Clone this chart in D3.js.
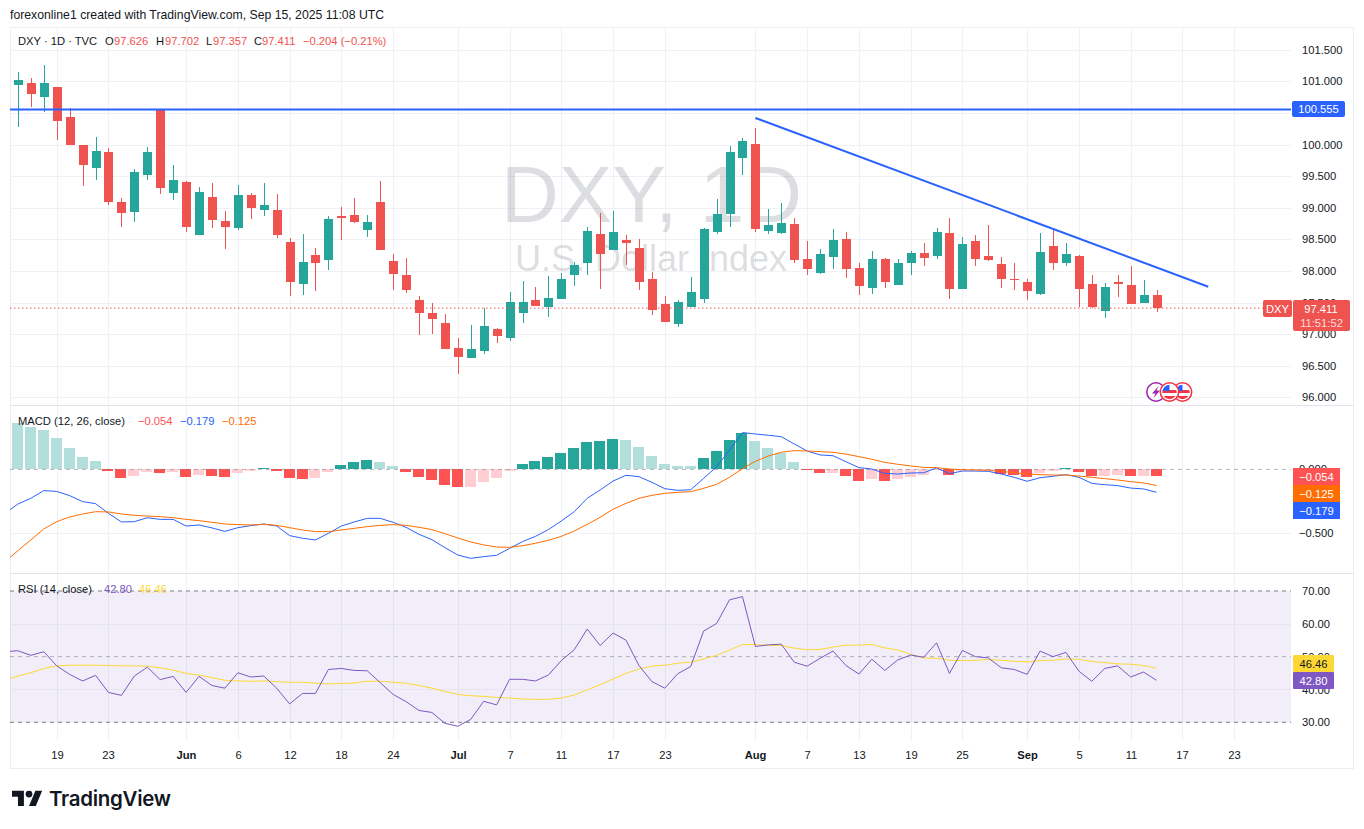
<!DOCTYPE html>
<html>
<head>
<meta charset="utf-8">
<script src="https://cdn.jsdelivr.net/npm/d3@7/dist/d3.min.js"></script>
<style>
html,body{margin:0;padding:0;background:#fff;overflow:hidden}
svg{display:block}
text{font-family:"Liberation Sans",Arial,sans-serif}
</style>
</head>
<body>
<svg id="c" width="1364" height="829"></svg>
<script>
// ---------- DATA ----------
const opens=[100.94,100.97,100.75,100.91,100.43,99.99,99.63,99.88,99.09,98.93,99.52,100.56,99.23,99.41,98.57,99.17,98.79,98.68,99.20,98.96,98.96,98.46,97.79,98.25,98.17,98.87,98.89,98.65,99.09,98.16,97.94,97.54,97.33,97.18,96.78,96.62,96.73,97.08,96.94,97.33,97.54,97.43,97.56,97.94,98.13,98.58,98.33,98.49,98.36,97.87,97.48,97.16,97.43,97.56,98.62,98.90,99.79,100.01,98.63,98.60,98.74,98.19,97.97,98.22,98.50,98.05,97.73,98.19,97.78,98.12,98.28,98.24,98.60,97.71,98.47,98.24,98.11,97.87,97.82,97.63,98.39,98.12,98.24,97.79,97.37,97.82,97.78,97.49,97.626];
const highs=[101.15,101.05,101.26,100.91,100.58,99.99,100.12,99.94,99.15,99.61,99.96,100.56,99.68,99.42,99.33,99.39,98.95,99.36,99.23,99.39,99.22,98.52,98.58,98.36,98.87,99.01,99.15,98.89,99.42,98.27,98.20,97.60,97.49,97.32,96.94,97.14,97.41,97.10,97.67,97.84,97.75,97.92,97.97,98.14,98.70,98.92,98.95,98.57,98.50,97.98,97.60,97.54,97.90,98.68,99.14,99.98,100.10,100.26,98.98,99.07,98.84,98.47,98.35,98.66,98.62,98.13,98.32,98.20,98.19,98.32,98.44,98.68,98.84,98.54,98.57,98.73,98.22,98.12,97.87,98.60,98.65,98.44,98.25,97.94,97.81,97.94,98.08,97.86,97.702];
const lows=[100.28,100.59,100.51,100.07,99.99,99.34,99.44,99.04,98.70,98.77,99.44,99.22,99.12,98.62,98.57,98.68,98.35,98.65,98.82,98.87,98.52,97.60,97.62,97.68,98.01,98.49,98.76,98.54,98.33,97.70,97.65,96.99,97.00,96.76,96.37,96.62,96.69,96.86,96.89,97.18,97.45,97.27,97.56,97.76,97.94,97.71,98.33,98.09,97.70,97.30,97.19,97.11,97.43,97.49,98.58,98.70,99.52,98.62,98.58,98.58,98.13,97.94,97.95,98.03,97.89,97.62,97.63,97.73,97.78,97.94,98.08,98.19,97.56,97.71,98.08,98.16,97.73,97.70,97.54,97.62,98.01,98.08,97.43,97.41,97.26,97.59,97.48,97.49,97.357];
const closes=[101.02,100.80,100.97,100.37,99.99,99.68,99.90,99.09,98.92,99.57,99.88,99.31,99.44,98.70,99.25,98.81,98.70,99.20,98.995,99.04,98.57,97.82,98.14,98.12,98.82,98.84,98.77,98.77,98.33,97.95,97.70,97.33,97.24,96.76,96.64,96.76,97.13,96.97,97.51,97.51,97.45,97.57,97.87,98.09,98.63,98.27,98.62,98.44,97.82,97.38,97.19,97.51,97.67,98.66,98.90,99.88,100.06,98.66,98.73,98.76,98.17,98.03,98.27,98.49,98.03,97.76,98.19,97.82,98.12,98.28,98.20,98.62,97.71,98.43,98.19,98.17,97.87,97.86,97.68,98.30,98.12,98.27,97.71,97.43,97.75,97.79,97.48,97.62,97.411];
const priceTicks=[96,96.5,97,97.5,98,98.5,99,99.5,100,100.5,101,101.5];
const resistance=100.555;
const lastClose=97.411;
const trendIdx=[57,92];
const trendPrice=[100.42,97.75];

const histValues=[.365,.331,.308,.245,.167,.097,.065,-.013,-.068,-.052,-.021,-.029,-.021,-.060,-.044,-.052,-.060,-.029,-.013,.010,-.013,-.068,-.076,-.068,-.021,.034,.057,.073,.057,.026,-.021,-.060,-.084,-.123,-.138,-.138,-.099,-.068,-.013,.042,.065,.097,.128,.167,.214,.222,.237,.230,.175,.104,.042,.026,.026,.089,.144,.230,.284,.222,.167,.128,.057,-.008,-.029,-.029,-.052,-.091,-.076,-.091,-.076,-.060,-.044,-.005,-.044,-.010,-.005,-.005,-.037,-.044,-.060,-.029,-.013,.010,-.021,-.052,-.052,-.044,-.052,-.052,-.054];
// line series start one bar before the first candle (it runs off the left edge)
const macdLine=[-.344,-.271,-.226,-.166,-.172,-.205,-.252,-.268,-.344,-.411,-.409,-.378,-.391,-.391,-.443,-.435,-.458,-.485,-.456,-.440,-.427,-.443,-.518,-.539,-.552,-.500,-.443,-.411,-.383,-.383,-.414,-.453,-.508,-.550,-.612,-.670,-.696,-.683,-.672,-.618,-.565,-.524,-.471,-.404,-.331,-.226,-.161,-.091,-.046,-.057,-.101,-.151,-.164,-.159,-.070,.021,.152,.288,.277,.267,.256,.199,.144,.113,.107,.060,.014,.003,-.031,-.036,-.028,-.026,.011,-.033,-.013,-.013,-.015,-.036,-.062,-.093,-.065,-.054,-.041,-.062,-.109,-.120,-.127,-.146,-.153,-.179];
const signalLine=[-.722,-.636,-.552,-.466,-.409,-.372,-.349,-.331,-.333,-.349,-.359,-.365,-.370,-.378,-.391,-.401,-.414,-.427,-.432,-.435,-.430,-.438,-.456,-.474,-.487,-.487,-.474,-.461,-.448,-.438,-.432,-.438,-.453,-.471,-.503,-.537,-.568,-.591,-.607,-.610,-.597,-.578,-.555,-.524,-.482,-.430,-.375,-.312,-.266,-.226,-.203,-.187,-.180,-.174,-.148,-.117,-.062,.006,.063,.105,.134,.147,.144,.139,.134,.120,.100,.079,.055,.040,.027,.016,.014,.003,-.002,-.005,-.007,-.015,-.026,-.036,-.041,-.044,-.044,-.052,-.062,-.072,-.083,-.096,-.106,-.125];
const macdTicks=[0,-0.5];

const rsiLine=[51.5,51.8,50.4,51.5,47.2,44.6,42.6,44.3,39.1,38.2,44.1,46.8,43.0,44.0,39.1,44.0,41.2,40.4,45.1,43.8,44.1,40.4,35.6,38.8,38.8,46.1,46.4,45.8,45.7,42.1,38.5,36.3,33.6,33.0,29.7,28.8,30.9,36.4,35.3,43.1,43.1,42.6,44.4,48.8,52.1,58.4,53.4,57.2,55.0,47.3,42.4,40.4,44.8,47.0,57.8,60.1,67.3,68.3,53.1,53.6,53.8,48.3,47.1,49.5,51.7,47.3,44.7,49.2,45.8,49.0,50.5,49.8,54.2,44.9,51.9,50.0,49.6,46.6,46.1,44.6,51.7,50.0,51.3,45.6,42.5,46.4,47.2,43.8,45.3,42.80];
const rsiMa=[42.9,44.1,45.1,46.4,47.2,47.4,47.4,47.4,47.3,47.2,47.2,47.1,46.6,45.9,44.9,44.4,43.6,42.8,42.6,42.5,42.6,42.4,42.2,42.2,41.9,41.7,41.8,42.0,42.5,42.5,42.2,41.9,41.2,40.4,39.4,38.5,38.1,37.9,37.6,37.4,37.1,37.0,37.0,37.4,38.3,39.9,41.5,43.2,44.9,46.2,47.1,47.4,48.0,48.3,49.3,50.4,52.0,53.7,53.7,53.4,53.4,52.6,52.1,52.2,52.9,53.5,53.5,53.7,52.7,52.0,50.7,49.6,49.5,48.9,48.8,48.9,49.1,48.9,48.6,48.4,48.8,48.9,49.3,49.2,48.5,48.2,47.8,47.7,47.3,46.46];
const rsiTicks=[70,60,50,40,30];

const timeIdx=[3,7,13,17,21,25,29,34,38,42,46,50,57,61,65,69,73,78,82,86,90,94];
const timeLabels=["19","23","Jun","6","12","18","24","Jul","7","11","17","23","Aug","7","13","19","25","Sep","5","11","17","23"];
const monthLabels=["Jun","Jul","Aug","Sep"];

// ---------- COLOURS ----------
const UP="#26a69a",DOWN="#ef5350",BLUE="#2962ff",ORANGE="#ff6d00",PURPLE="#7e57c2",YELLOW="#fdd835";
const GRID="#f0f1f4",BORDER="#e0e3eb",TEXT="#131722";

// ---------- SCALES ----------
const plotL=10,plotR=1291;
const x=d3.scaleLinear().domain([0,88]).range([17.9,1156.5]);
const y=d3.scaleLinear().domain([96,101]).range([397.3,81.3]);
const yM=d3.scaleLinear().domain([-0.5,0]).range([533.3,469.4]);
const yR=d3.scaleLinear().domain([30,70]).range([722.3,591]);
const px=v=>Math.round(x(v));

const svg=d3.select("#c");
const defs=svg.append("defs");
[["cMain",27,405],["cMacd",405,573],["cRsi",573,741]].forEach(([id,t,b])=>{
  defs.append("clipPath").attr("id",id).append("rect").attr("x",plotL).attr("y",t).attr("width",plotR-plotL).attr("height",b-t);
});

// frame
svg.append("rect").attr("x",10.5).attr("y",27.5).attr("width",1343).attr("height",741).attr("fill","#fff").attr("stroke","#eceef2");

// vertical grid
const gridV=svg.append("g").attr("shape-rendering","crispEdges");
[[27,405],[405,573],[573,741]].forEach(([t,b])=>{
  gridV.selectAll(null).data(timeIdx).join("line")
    .attr("x1",d=>px(d)+.5).attr("x2",d=>px(d)+.5).attr("y1",t).attr("y2",b).attr("stroke",GRID);
});
// horizontal grid
const gridH=svg.append("g").attr("shape-rendering","crispEdges");
gridH.selectAll(null).data(priceTicks).join("line").attr("x1",plotL).attr("x2",plotR)
  .attr("y1",d=>Math.round(y(d))+.5).attr("y2",d=>Math.round(y(d))+.5).attr("stroke",GRID);
gridH.selectAll(null).data(macdTicks.slice(1)).join("line").attr("x1",plotL).attr("x2",plotR)
  .attr("y1",d=>Math.round(yM(d))+.5).attr("y2",d=>Math.round(yM(d))+.5).attr("stroke",GRID);

// watermark
svg.append("text").attr("x",501).attr("y",222).attr("font-size",80).attr("fill","#787b86").attr("fill-opacity",.25).text("DXY, 1D");
svg.append("text").attr("x",515).attr("y",271).attr("font-size",36).attr("fill","#787b86").attr("fill-opacity",.25).text("U.S. Dollar Index");

// pane separators
[405,573].forEach(v=>svg.append("line").attr("x1",10).attr("x2",1354).attr("y1",v+.5).attr("y2",v+.5).attr("stroke",BORDER).attr("shape-rendering","crispEdges"));

// ---------- CANDLES ----------
const candles=d3.range(opens.length).map(i=>({i,o:opens[i],h:highs[i],l:lows[i],c:closes[i]}));
const cg=svg.append("g").attr("clip-path","url(#cMain)").attr("shape-rendering","crispEdges");
// last price dotted line
svg.append("line").attr("x1",plotL).attr("x2",1263).attr("y1",y(lastClose)).attr("y2",y(lastClose))
  .attr("stroke",DOWN).attr("stroke-width",1).attr("stroke-dasharray","1.5,2.5");
cg.selectAll("rect.w").data(candles).join("rect").attr("class","w")
  .attr("x",d=>px(d.i)).attr("width",1).attr("y",d=>y(d.h)).attr("height",d=>y(d.l)-y(d.h))
  .attr("fill",d=>d.c>=d.o?UP:DOWN);
cg.selectAll("rect.b").data(candles).join("rect").attr("class","b")
  .attr("x",d=>px(d.i)-4).attr("width",9).attr("y",d=>y(Math.max(d.o,d.c)))
  .attr("height",d=>Math.max(1,Math.abs(y(d.o)-y(d.c))))
  .attr("fill",d=>d.c>=d.o?UP:DOWN);

// resistance + trend line
svg.append("line").attr("x1",plotL).attr("x2",plotR).attr("y1",y(resistance)).attr("y2",y(resistance)).attr("stroke",BLUE).attr("stroke-width",2);
svg.append("line").attr("x1",x(trendIdx[0])).attr("x2",x(trendIdx[1])).attr("y1",y(trendPrice[0])).attr("y2",y(trendPrice[1])).attr("stroke",BLUE).attr("stroke-width",2);

// ---------- EVENT ICONS ----------
function flag(cx,cy){
  const g=svg.append("g").attr("transform",`translate(${cx},${cy})`);
  g.append("circle").attr("r",9.2).attr("fill","#fff").attr("stroke","#f23645").attr("stroke-width",1.6);
  const id="f"+Math.round(cx);
  defs.append("clipPath").attr("id",id).append("circle").attr("r",7.2);
  const f=g.append("g").attr("clip-path",`url(#${id})`);
  f.append("rect").attr("x",-8).attr("y",-8).attr("width",16).attr("height",16).attr("fill","#fff");
  f.append("rect").attr("x",-8).attr("y",-2).attr("width",16).attr("height",3).attr("fill","#f23645");
  f.append("rect").attr("x",-8).attr("y",4).attr("width",16).attr("height",4).attr("fill","#f23645");
  f.append("rect").attr("x",-8).attr("y",-8).attr("width",8).attr("height",7).attr("fill","#2962ff");
}
{
  const g=svg.append("g").attr("transform","translate(1156,392)");
  g.append("circle").attr("r",9.2).attr("fill","#fff").attr("stroke","#9c27b0").attr("stroke-width",1.6);
  g.append("path").attr("d","M2.5,-6 L-4,1.5 L-0.5,1.5 L-2.5,6 L4,-1.5 L0.5,-1.5 Z").attr("fill","#9c27b0");
  flag(1182.5,392);
  flag(1169.5,392);
}

// ---------- MACD ----------
const mg=svg.append("g").attr("clip-path","url(#cMacd)");
const histColor=(v,i)=>{
  const p=i?histValues[i-1]:Infinity;
  return v>=0?(v>p?UP:"#b2dfdb"):(v<p?"#ff5252":"#ffcdd2");
};
mg.append("g").attr("shape-rendering","crispEdges").selectAll("rect").data(histValues).join("rect")
  .attr("x",(d,i)=>px(i)-6).attr("width",11)
  .attr("y",d=>Math.min(yM(d),yM(0))).attr("height",d=>Math.abs(yM(d)-yM(0)))
  .attr("fill",histColor);
mg.append("line").attr("x1",plotL).attr("x2",plotR).attr("y1",yM(0)).attr("y2",yM(0))
  .attr("stroke","#787b86").attr("stroke-opacity",.55).attr("stroke-dasharray","4,4");
const lineM=d3.line().x((d,i)=>x(i-1)).y(d=>yM(d));
mg.append("path").attr("d",lineM(macdLine)).attr("fill","none").attr("stroke",BLUE).attr("stroke-width",1);
mg.append("path").attr("d",lineM(signalLine)).attr("fill","none").attr("stroke",ORANGE).attr("stroke-width",1);

// ---------- RSI ----------
const rg=svg.append("g").attr("clip-path","url(#cRsi)");
rg.append("rect").attr("x",plotL).attr("width",plotR-plotL).attr("y",yR(70)).attr("height",yR(30)-yR(70))
  .attr("fill",PURPLE).attr("fill-opacity",.1);
rg.append("g").attr("shape-rendering","crispEdges").selectAll("line").data([60,40]).join("line")
  .attr("x1",plotL).attr("x2",plotR).attr("y1",d=>Math.round(yR(d))+.5).attr("y2",d=>Math.round(yR(d))+.5).attr("stroke","#e6e4ef");
rg.append("g").selectAll("line").data([70,50,30]).join("line")
  .attr("x1",plotL).attr("x2",plotR).attr("y1",d=>yR(d)).attr("y2",d=>yR(d))
  .attr("stroke","#787b86").attr("stroke-opacity",d=>d===50?.55:1).attr("stroke-dasharray","4,4");
const lineR=d3.line().x((d,i)=>x(i-1)).y(d=>yR(d));
rg.append("path").attr("d",lineR(rsiMa)).attr("fill","none").attr("stroke",YELLOW).attr("stroke-width",1);
rg.append("path").attr("d",lineR(rsiLine)).attr("fill","none").attr("stroke",PURPLE).attr("stroke-width",1);

// ---------- AXES ----------
const minus=s=>s.replace("-","\u2212");
function styleAxis(g){
  g.select(".domain").remove();
  g.selectAll(".tick line").remove();
  g.selectAll("text").attr("fill",TEXT).attr("font-size",11.2).attr("font-family",'"Liberation Sans",Arial,sans-serif');
}
svg.append("g").attr("transform","translate(1292,0)").call(d3.axisRight(y).tickValues(priceTicks).tickFormat(d3.format(".3f")).tickSize(0).tickPadding(10)).call(styleAxis);
svg.append("g").attr("transform","translate(1292,0)").call(d3.axisRight(yM).tickValues(macdTicks).tickFormat(d=>minus(d3.format(".3f")(d))).tickSize(0).tickPadding(7)).call(styleAxis);
svg.append("g").attr("transform","translate(1292,0)").call(d3.axisRight(yR).tickValues(rsiTicks).tickFormat(d3.format(".2f")).tickSize(0).tickPadding(10)).call(styleAxis);
const xAxis=svg.append("g").attr("transform","translate(0,751)")
  .call(d3.axisBottom(x).tickValues(timeIdx).tickFormat((d,i)=>timeLabels[i]).tickSize(0).tickPadding(0)).call(styleAxis);
xAxis.selectAll(".tick").attr("transform",d=>`translate(${px(d)+.5},0)`);
xAxis.selectAll("text").attr("dy","0.71em").attr("font-weight",(d,i)=>monthLabels.includes(timeLabels[i])?600:400);

// ---------- VALUE LABELS ----------
function box(xp,yp,w,h,fill,txt,tc,r){
  svg.append("rect").attr("x",xp).attr("y",yp).attr("width",w).attr("height",h).attr("fill",fill).attr("rx",r||0);
  if(txt) svg.append("text").attr("x",xp+w/2).attr("y",yp+h/2+4).attr("text-anchor","middle").attr("font-size",11.2).attr("fill",tc).text(txt);
}
box(1292,101,53,16,BLUE,d3.format(".3f")(resistance),"#fff",2);
box(1263,300,29,17,DOWN,"DXY","#fff",2);
box(1293,300,57,31,DOWN,null,null,2);
svg.append("text").attr("x",1321).attr("y",312.5).attr("text-anchor","middle").attr("font-size",11.2).attr("fill","#fff").text(d3.format(".3f")(lastClose));
svg.append("text").attr("x",1321.5).attr("y",326.5).attr("text-anchor","middle").attr("font-size",11.2).attr("fill","#fff").attr("fill-opacity",.8).text("11:51:52");
box(1293,468,47,17,"#ff5252",minus(d3.format(".3f")(histValues[88])),"#fff");
box(1293,485,47,17,ORANGE,minus(d3.format(".3f")(signalLine[89])),"#fff");
box(1293,502,47,17,BLUE,minus(d3.format(".3f")(macdLine[89])),"#fff");
box(1293,655,41,17,YELLOW,d3.format(".2f")(rsiMa[89]),TEXT,1);
box(1293,672,41,17,PURPLE,d3.format(".2f")(rsiLine[89]),"#fff",1);

// ---------- TITLE + LEGENDS ----------
svg.append("text").attr("x",10).attr("y",19).attr("font-size",12.25).attr("fill",TEXT).text("forexonline1 created with TradingView.com, Sep 15, 2025 11:08 UTC");
function legend(yp,parts){
  const t=svg.append("text").attr("y",yp).attr("font-size",11.2);
  parts.forEach(([s,c,xp])=>t.append("tspan").attr("x",xp).attr("fill",c).text(s));
}
legend(45,[["DXY · 1D · TVC",TEXT,18],["O",TEXT,105],["97.626",DOWN,114],["H",TEXT,156],["97.702",DOWN,165],["L",TEXT,206],["97.357",DOWN,213],["C",TEXT,254],["97.411",DOWN,262],["−0.204 (−0.21%)",DOWN,303]]);
legend(425,[["MACD (12, 26, close)",TEXT,18],["−0.054","#ff5252",138],["−0.179",BLUE,180],["−0.125",ORANGE,222]]);
legend(593,[["RSI (14, close)",TEXT,18],["42.80",PURPLE,104],["46.46",YELLOW,139]]);

// ---------- LOGO ----------
const logo=svg.append("g").attr("transform","translate(12,787.3) scale(.85)");
logo.append("path").attr("d","M14 22H7V11H0V4h14v18zM28 22h-8l7.5-18h8L28 22z").attr("fill",TEXT);
logo.append("circle").attr("cx",20).attr("cy",8).attr("r",4).attr("fill",TEXT);
svg.append("text").attr("x",49).attr("y",806).attr("font-size",20.5).attr("font-weight",600).attr("fill",TEXT).style("font-family",'Inter,"Liberation Sans",sans-serif').attr("letter-spacing","-0.3").text("TradingView");
</script>
</body>
</html>
